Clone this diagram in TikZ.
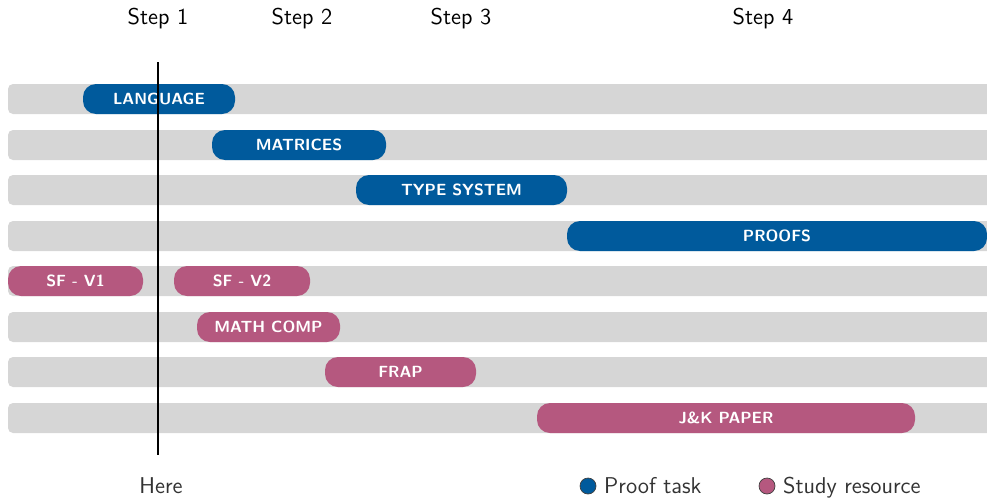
\documentclass[tikz,border=0pt]{standalone}
\definecolor{taskblue}{RGB}{0,90,156}
\definecolor{resourcepink}{RGB}{181,88,127}
\definecolor{lanegray}{RGB}{214,214,214}
\begin{document}
\begin{tikzpicture}[x=0.02cm, y=-0.02cm, font=\sffamily,
   lane/.style={fill=lanegray, rounded corners=0.1cm},
   proof/.style={fill=taskblue, rounded corners=0.26cm},
   study/.style={fill=resourcepink, rounded corners=0.26cm},
   barlabel/.style={text=white, font=\sffamily\bfseries\fontsize{9.2}{11}\selectfont},
   steplabel/.style={font=\sffamily\fontsize{13}{15}\selectfont},
   keydot/.style={circle, draw=black!75, line width=0.4pt, minimum size=0.32cm, inner sep=0pt},
   keylabel/.style={text=black!80, anchor=base west, font=\sffamily\fontsize{13}{15}\selectfont}]
      \useasboundingbox (0,0) rectangle (987,497);
      % lanes
      \fill[lane] (8,84) rectangle (995,114);
      \fill[lane] (8,130) rectangle (995,160);
      \fill[lane] (8,175) rectangle (995,205);
      \fill[lane] (8,221) rectangle (995,251);
      \fill[lane] (8,266) rectangle (995,296);
      \fill[lane] (8,312) rectangle (995,342);
      \fill[lane] (8,357) rectangle (995,387);
      \fill[lane] (8,403) rectangle (995,433);
      % proof tasks
      \fill[proof] (83,84) rectangle (235,114);
      \node[barlabel] (L) at (159,99) {LANGUAGE};
      \fill[proof] (212,130) rectangle (386,160);
      \node[barlabel] (M) at (299,145) {MATRICES};
      \fill[proof] (356,175) rectangle (567,205);
      \node[barlabel] (T) at (461.5,190) {TYPE SYSTEM};
      \fill[proof] (567,221) rectangle (987,251);
      \node[barlabel] (P) at (777,236) {PROOFS};
      % study resources
      \fill[study] (8,266) rectangle (143,296);
      \node[barlabel] (S1) at (75.5,281) {SF - V1};
      \fill[study] (174,266) rectangle (310,296);
      \node[barlabel] (S2) at (242,281) {SF - V2};
      \fill[study] (197,312) rectangle (340,342);
      \node[barlabel] (MC) at (268.5,327) {MATH COMP};
      \fill[study] (325,357) rectangle (476,387);
      \node[barlabel] (F) at (400.5,372) {FRAP};
      \fill[study] (537,403) rectangle (915,433);
      \node[barlabel] (JK) at (726,418) {J\&K PAPER};
      % steps
      \node[steplabel] (S1t) at (158,19) {Step 1};
      \node[steplabel] (S2t) at (302,19) {Step 2};
      \node[steplabel] (S3t) at (461,19) {Step 3};
      \node[steplabel] (S4t) at (763,19) {Step 4};
      % now
      \coordinate (N) at (158,62);
      \coordinate (N2) at (158,455);
      \draw[line width=1.1pt] (N) -- (N2);
      \node[steplabel, text=black!80, anchor=base] (H) at (161,493) {Here};
      % key
      \node[keydot, fill=taskblue] (K1) at (588,486) {};
      \node[keylabel] (K1t) at (598,493) {Proof task};
      \node[keydot, fill=resourcepink] (K2) at (767,486) {};
      \node[keylabel] (K2t) at (777,493) {Study resource};
   \end{tikzpicture}
\end{document}
